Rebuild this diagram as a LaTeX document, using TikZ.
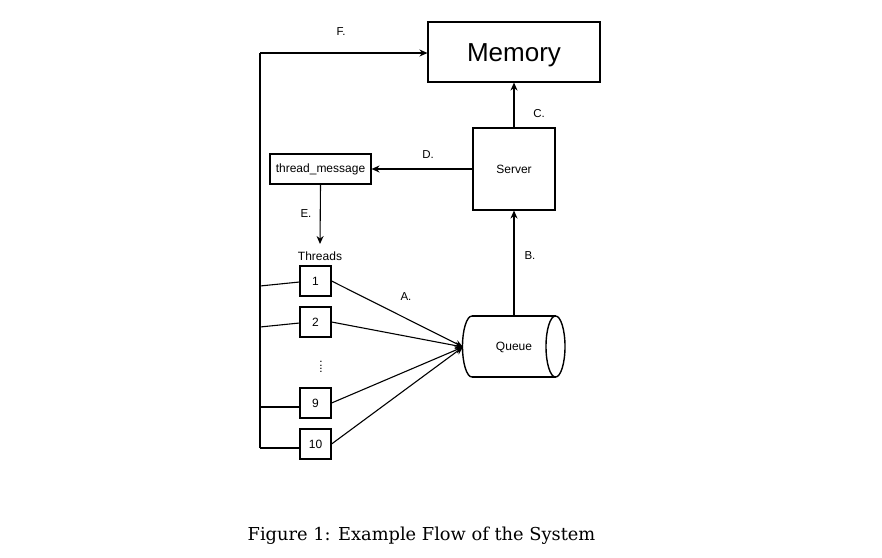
\documentclass[tikz,border=0pt]{standalone}
\usepackage{fontspec}
\setmainfont{Liberation Sans}
\newfontfamily\capfont{DejaVu Serif}
\usetikzlibrary{arrows.meta}
\begin{document}
\begin{tikzpicture}[x=1pt,y=-1pt,
  box/.style={draw,line width=1.1pt,inner sep=0pt,font=\fontsize{12}{14}\selectfont},
  lbl/.style={font=\fontsize{11.5}{13}\selectfont,inner sep=0pt},
  arr/.style={-{Stealth[length=8pt,width=7pt]},line width=1.1pt},
  ln/.style={line width=1.1pt}]
\useasboundingbox (0,0) rectangle (882,557);
% boxes
\node[box,minimum width=172pt,minimum height=60pt,
  label={[font=\fontsize{26}{30}\selectfont,inner sep=0pt,yshift=-3pt]center:Memory}] (mem) at (514,52) {};
\node[box,minimum width=82pt,minimum height=82pt] (srv) at (514,169) {Server};
\node[box,minimum width=101pt,minimum height=30pt] (tm) at (320.5,169) {thread\_message};
\node[lbl,font=\fontsize{12}{14}\selectfont] (thr) at (320,256) {Threads};
\node[box,minimum width=31pt,minimum height=30pt] (t1) at (315.5,281) {1};
\node[box,minimum width=31pt,minimum height=30pt] (t2) at (315.5,322) {2};
\node[box,minimum width=31pt,minimum height=30pt] (t9) at (315.5,403) {9};
\node[box,minimum width=31pt,minimum height=30pt] (t10) at (315.5,444) {10};
\node[lbl] (dots) at (321,367) {\rotatebox{90}{\fontsize{12}{12}\selectfont ....}};
% queue cylinder
\coordinate (qL) at (463,347);
\coordinate (qT) at (514,316);
\node[lbl,font=\fontsize{12}{14}\selectfont] (q) at (514,347) {Queue};
\draw[line width=1.4pt] (472,316) -- (555.5,316) (472,377) -- (555.5,377);
\draw[line width=1.4pt] (472,316) arc[start angle=-90,end angle=-270,x radius=9.5,y radius=30.5];
\draw[line width=1.4pt] (555.5,346.5) ellipse[x radius=9.5,y radius=30.5];
% left bus
\coordinate (bt) at (260,53);
\coordinate (bb) at (260,448);
\coordinate (b1) at (260,286);
\coordinate (b2) at (260,327);
\coordinate (b9) at (260,407);
\draw[ln] (bb) -- (bt);
\draw[arr] (bt) -- (mem.west |- bt);
\draw[ln] (b1) -- (t1.west |- 0,282);
\draw[ln] (b2) -- (t2.west |- 0,323);
\draw[ln] (b9) -- (t9.west |- 0,407);
\draw[ln] (bb) -- (t10.west |- bb);
% arrows
\draw[arr] (t1.east) -- (qL);
\draw[arr] (t2.east) -- (qL);
\draw[arr] (t9.east) -- (qL);
\draw[arr] (t10.east) -- (qL);
\draw[arr] (qT) -- (srv.south);
\draw[arr] (srv.north) -- (mem.south);
\draw[arr] (srv.west) -- (tm.east);
\draw[arr] (tm.south) -- (320,244);
% labels
\node[lbl] (lA) at (406,297) {A.};
\node[lbl] (lB) at (530,256) {B.};
\node[lbl] (lC) at (539,114) {C.};
\node[lbl] (lD) at (428,155) {D.};
\node[lbl] (lE) at (306,214) {E.};
\node[lbl] (lF) at (341,32) {F.};
\node[inner sep=0pt,font=\capfont\fontsize{17.8}{20}\selectfont] (cap) at (421.5,536) {Figure 1: Example Flow of the System};
\end{tikzpicture}
\end{document}
